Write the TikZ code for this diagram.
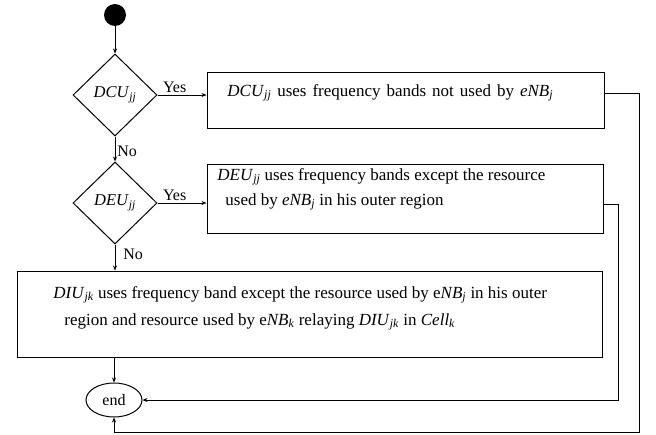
\documentclass[tikz,border=0pt]{standalone}
\usepackage{fontspec}
\setmainfont{Liberation Serif}
\usetikzlibrary{shapes.geometric,arrows.meta}
\newcommand{\vr}[2]{\textit{#1}\textsubscript{\textit{#2}}}

\begin{document}
\begin{tikzpicture}[x=1pt, y=-1pt,
  box/.style={draw, line width=1pt, inner sep=0pt},
  dec/.style={draw, diamond, aspect=1, line width=1pt, inner sep=0pt,
    minimum width=84pt, minimum height=82pt, font=\fontsize{16.5}{18}\selectfont},
  txt/.style={anchor=base west, inner sep=0pt, font=\fontsize{17}{19}\selectfont},
  lbl/.style={font=\fontsize{16}{18}\selectfont, inner sep=2pt},
  line width=0.8pt, >={Stealth[length=5pt, width=4pt]}]
\useasboundingbox (0,0) rectangle (656,434);

% start, decisions
\node[circle, fill, minimum size=22pt, inner sep=0pt] (start) at (115,15) {};
\node[dec] (d1) at (115,95) {\vr{DCU}{jj}};
\node[dec] (d2) at (115,203) {\vr{DEU}{jj}};

% boxes
\node[box, minimum width=397pt, minimum height=56pt] (b1) at (405.5,100) {};
\node[box, minimum width=396pt, minimum height=69pt] (b2) at (405,198.5) {};
\node[box, minimum width=585pt, minimum height=86pt] (b3) at (309.5,314) {};
\node[draw, ellipse, line width=1pt, minimum width=56pt, minimum height=34pt,
  font=\fontsize{16}{18}\selectfont] (e) at (114,400) {end};

% box texts
\node[txt] (t1) at (227,96) {\spaceskip=6pt plus 1pt\vr{DCU}{jj} uses frequency bands not used by \vr{eNB}{j}};
\node[txt] (t2a) at (217,180) {\vr{DEU}{jj} uses frequency bands except the resource};
\node[txt] (t2b) at (225,205) {used by \vr{eNB}{j} in his outer region};
\node[txt] (t3a) at (53,298) {\vr{DIU}{jk} uses frequency band except the resource used by e\vr{NB}{j} in his outer};
\node[txt] (t3b) at (64,325) {region and resource used by e\vr{NB}{k} relaying \vr{DIU}{jk} in \vr{Cell}{k}};

% connectors
\draw[->] (start) -- (d1);
\draw[->] (d1.east) -- node[lbl, above, pos=0.35] {Yes} (d1.east -| b1.west);
\draw[->] (d1.south) -- node[lbl, right, yshift=-2pt] {No} (d2.north);
\draw[->] (d2.east) -- node[lbl, above, pos=0.35] {Yes} (d2.east -| b2.west);
\draw[->] (d2.south) -- node[lbl, right, xshift=6pt, yshift=3pt] {No} (d2.south |- b3.north);
\draw[->] (e.north |- b3.south) -- (e.north);

\coordinate (r1) at (639,432);
\coordinate (r2) at (618,400);
\draw[->] ([yshift=7pt]b1.east) -| (r1) -| (e.south);
\draw[->] ([yshift=-5.5pt]b2.east) -| (r2) -- (e.east);

\end{tikzpicture}
\end{document}
